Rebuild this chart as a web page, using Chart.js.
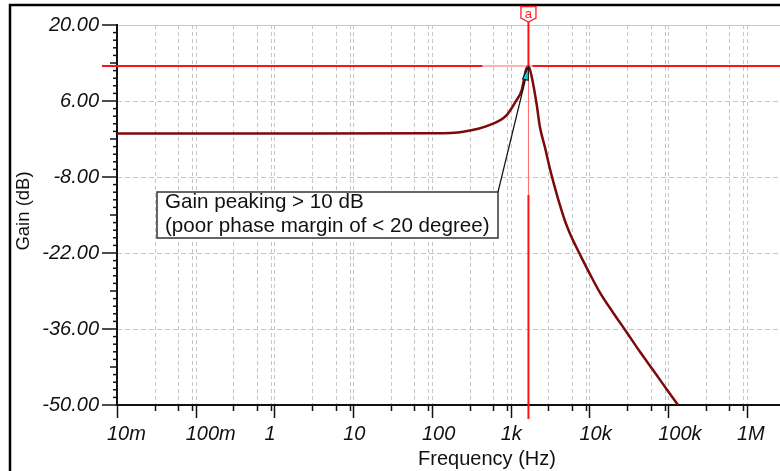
<!DOCTYPE html>
<html><head><meta charset="utf-8">
<script src="https://cdn.jsdelivr.net/npm/chart.js@4.4.0/dist/chart.umd.min.js"></script>
<style>html,body{margin:0;padding:0;background:#fff;overflow:hidden}#wrap{width:780px;height:471px;position:relative}</style>
</head><body><div id="wrap"><canvas id="c" width="780" height="471"></canvas></div>
<script>
// ---- data ----
const frequencies = [0.01, 1, 100, 250, 545, 890, 1190, 1380, 1560, 1680, 1845, 2140, 2350, 2720, 3150, 3650, 4220, 4890, 5650, 6540, 7960, 10150, 13600, 20000, 29700, 43800, 64600, 95500, 134300];
const gains       = [0,    0, 0.05, 0.35, 1.6, 3.4, 6.2, 8.0, 11.7, 12.45, 10.5, 5.3, 1.2, -2.5, -6.5, -10.0, -13.2, -16.1, -18.4, -20.4, -22.9, -25.9, -29.3, -33.0, -36.6, -40.2, -43.6, -47.1, -50.05];
const decadeTicks  = [0.01, 0.1, 1, 10, 100, 1000, 10000, 100000, 1000000];
const decadeLabels = ['10m', '100m', '1', '10', '100', '1k', '10k', '100k', '1M'];
const minorMultipliers = [3, 6, 9];
const yTicks = [-50, -36, -22, -8, 6, 20];
const xMin = 0.01, xMax = 2.63e6;
const yMin = -50, yMax = 20;
const cursorFreq = 1680, cursorGain = 12.45, cursorLabel = 'a';
const noteLines = ['Gain peaking > 10 dB', '(poor phase margin of < 20 degree)'];
const xTitle = 'Frequency (Hz)', yTitle = 'Gain (dB)';

const xTicks = decadeTicks.flatMap(d => [d, ...minorMultipliers.map(m => d * m)]).filter(v => v <= xMax);
const isDecade = v => decadeTicks.some(d => Math.abs(d - v) / d < 1e-6);
const FONT = '"Liberation Sans", Arial, sans-serif';

const deco = {
  id: 'deco',
  beforeDraw(chart) {
    const {ctx, chartArea: a, scales: {x, y}} = chart;
    ctx.save();
    ctx.fillStyle = '#fff';
    ctx.fillRect(0, 0, chart.width, chart.height);
    ctx.strokeStyle = '#c6c6c6';
    ctx.lineWidth = 1;
    ctx.setLineDash([4, 3]);
    xTicks.forEach(v => {
      if (v <= xMin) return;
      const px = Math.round(x.getPixelForValue(v)) + 0.5;
      ctx.beginPath(); ctx.moveTo(px, a.top); ctx.lineTo(px, a.bottom); ctx.stroke();
    });
    ctx.setLineDash([5, 3]);
    yTicks.forEach(v => {
      if (v <= yMin || v >= yMax) return;
      const py = Math.round(y.getPixelForValue(v)) + 0.5;
      ctx.beginPath(); ctx.moveTo(a.left, py); ctx.lineTo(a.right, py); ctx.stroke();
    });
    ctx.setLineDash([]);
    ctx.strokeStyle = '#c8c8c8';
    const pt = Math.round(y.getPixelForValue(yMax)) + 0.5;
    ctx.beginPath(); ctx.moveTo(a.left, pt); ctx.lineTo(a.right, pt); ctx.stroke();
    ctx.restore();
  },
  afterDraw(chart) {
    const {ctx, chartArea: a, scales: {x, y}} = chart;
    ctx.save();
    ctx.strokeStyle = '#000';
    ctx.lineWidth = 2.5;
    ctx.beginPath(); ctx.moveTo(10, 471); ctx.lineTo(10, 5); ctx.lineTo(780, 5); ctx.stroke();

    // y ticks
    ctx.strokeStyle = '#111';
    ctx.lineWidth = 1.5;
    for (let i = 0; i < yTicks.length; i++) {
      const py = y.getPixelForValue(yTicks[i]);
      ctx.beginPath(); ctx.moveTo(a.left - 15, py); ctx.lineTo(a.left, py); ctx.stroke();
      if (i < yTicks.length - 1) {
        const step = (yTicks[i + 1] - yTicks[i]) / 10;
        for (let k = 1; k < 10; k++) {
          const p = y.getPixelForValue(yTicks[i] + k * step);
          const len = k === 5 ? 7 : 4;
          ctx.beginPath(); ctx.moveTo(a.left - len, p); ctx.lineTo(a.left, p); ctx.stroke();
        }
      }
    }
    // x ticks
    xTicks.forEach(v => {
      const px = Math.round(x.getPixelForValue(v)) + 0.5;
      const len = isDecade(v) ? 13 : 6;
      ctx.beginPath(); ctx.moveTo(px, a.bottom); ctx.lineTo(px, a.bottom + len); ctx.stroke();
    });

    // cursor lines
    const cx = x.getPixelForValue(cursorFreq);
    const cy = y.getPixelForValue(cursorGain);
    ctx.strokeStyle = '#ff6a6a';
    ctx.lineWidth = 1;
    ctx.beginPath(); ctx.moveTo(cx - 46, cy); ctx.lineTo(cx + 4, cy); ctx.stroke();
    ctx.beginPath(); ctx.moveTo(cx, cy); ctx.lineTo(cx, cy + 129); ctx.stroke();
    ctx.strokeStyle = '#ff1212';
    ctx.lineWidth = 2;
    ctx.beginPath(); ctx.moveTo(a.left - 15, cy); ctx.lineTo(cx - 46, cy); ctx.stroke();
    ctx.beginPath(); ctx.moveTo(cx + 4, cy); ctx.lineTo(a.right, cy); ctx.stroke();
    ctx.beginPath(); ctx.moveTo(cx, 22); ctx.lineTo(cx, cy); ctx.stroke();
    ctx.beginPath(); ctx.moveTo(cx, cy + 129); ctx.lineTo(cx, a.bottom + 14); ctx.stroke();

    // cursor marker
    ctx.fillStyle = '#fff';
    ctx.strokeStyle = '#ff2020';
    ctx.lineWidth = 1.3;
    ctx.beginPath();
    ctx.moveTo(cx - 7.5, 6.5); ctx.lineTo(cx + 7.5, 6.5); ctx.lineTo(cx + 7.5, 18);
    ctx.lineTo(cx, 22); ctx.lineTo(cx - 7.5, 18); ctx.closePath();
    ctx.fill(); ctx.stroke();
    ctx.fillStyle = '#ff2020';
    ctx.font = '13px ' + FONT;
    ctx.textAlign = 'center'; ctx.textBaseline = 'alphabetic';
    ctx.fillText(cursorLabel, cx, 18);

    // annotation box
    const bx = 157, by = 192, bw = 341, bh = 46;
    ctx.fillStyle = '#fff';
    ctx.fillRect(bx, by, bw, bh);
    ctx.strokeStyle = '#333';
    ctx.lineWidth = 1.5;
    ctx.strokeRect(bx, by, bw, bh);
    ctx.fillStyle = '#111';
    ctx.font = '20.6px ' + FONT;
    ctx.textAlign = 'left';
    ctx.fillText(noteLines[0], bx + 8, by + 16);
    ctx.fillText(noteLines[1], bx + 8, by + 40);
    // arrow
    const sx = bx + bw, sy = by;
    const ang = Math.atan2(cy - sy, cx - sx);
    ctx.strokeStyle = '#111';
    ctx.lineWidth = 1.2;
    ctx.beginPath(); ctx.moveTo(sx, sy); ctx.lineTo(cx, cy + 1); ctx.stroke();
    ctx.save();
    ctx.translate(cx, cy + 1);
    ctx.rotate(ang);
    ctx.beginPath();
    ctx.moveTo(0, 0); ctx.lineTo(-13, -3); ctx.lineTo(-13, 3); ctx.closePath();
    ctx.fillStyle = '#22c8d8';
    ctx.fill();
    ctx.strokeStyle = '#111';
    ctx.lineWidth = 1;
    ctx.stroke();
    ctx.restore();

    // axis titles
    ctx.fillStyle = '#111';
    ctx.font = '20px ' + FONT;
    ctx.textAlign = 'center';
    ctx.textBaseline = 'alphabetic';
    ctx.fillText(xTitle, 487, 465);
    ctx.save();
    ctx.translate(29, 211);
    ctx.rotate(-Math.PI / 2);
    ctx.font = '18.5px ' + FONT;
    ctx.fillText(yTitle, 0, 0);
    ctx.restore();
    ctx.restore();
  }
};

new Chart(document.getElementById('c'), {
  type: 'line',
  data: {
    datasets: [{
      data: frequencies.map((f, i) => ({x: f, y: gains[i]})),
      borderColor: '#7d0a0a',
      borderWidth: 2.5,
      pointRadius: 0,
      cubicInterpolationMode: 'monotone',
      fill: false
    }]
  },
  options: {
    responsive: false,
    animation: false,
    devicePixelRatio: 1,
    layout: {padding: {top: 25, left: 0, right: 0, bottom: 0}},
    plugins: {legend: {display: false}, tooltip: {enabled: false}},
    scales: {
      x: {
        type: 'logarithmic', min: xMin, max: xMax, bounds: 'data',
        afterBuildTicks: s => { s.ticks = xTicks.map(v => ({value: v})); },
        afterFit: s => { s.height = 66; s.paddingLeft = 0; s.paddingRight = 0; s.paddingTop = 0; s.paddingBottom = 0; },
        grid: {display: false, drawTicks: false},
        border: {display: true, color: '#111', width: 2},
        ticks: {
          autoSkip: false, maxRotation: 0, minRotation: 0, align: 'start', labelOffset: -10, padding: 17,
          color: '#111', font: {family: FONT, size: 20, style: 'italic'},
          callback: v => { const i = decadeTicks.findIndex(d => Math.abs(d - v) / d < 1e-6); return i >= 0 ? decadeLabels[i] : ''; }
        }
      },
      y: {
        type: 'linear', min: yMin, max: yMax, bounds: 'data',
        afterBuildTicks: s => { s.ticks = yTicks.map(v => ({value: v})); },
        afterFit: s => { s.width = 117; s.paddingTop = 0; s.paddingBottom = 0; s.paddingLeft = 0; s.paddingRight = 0; },
        grid: {display: false, drawTicks: false},
        border: {display: true, color: '#111', width: 2},
        ticks: {
          padding: 18, color: '#111', font: {family: FONT, size: 20, style: 'italic'},
          callback: v => Number(v).toFixed(2)
        }
      }
    }
  },
  plugins: [deco]
});
</script>
</body></html>
